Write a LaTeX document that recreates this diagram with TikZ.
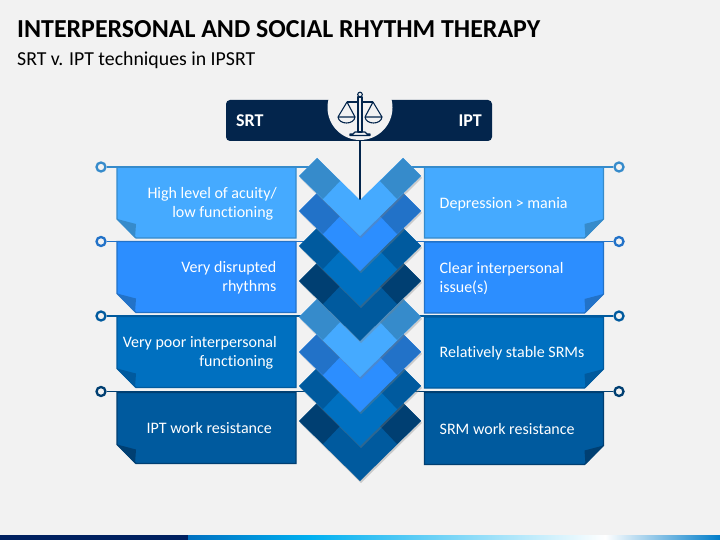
\documentclass[tikz,border=0pt]{standalone}
\usepackage{fontspec}
\setmainfont[Ligatures=NoCommon]{Carlito}
\usetikzlibrary{shadows}
\definecolor{pagegrey}{HTML}{F2F2F2}
\definecolor{navy}{HTML}{03254C}
\definecolor{footnavy}{HTML}{002060}
\definecolor{footcyan}{HTML}{00B0F0}
\definecolor{skyblue}{HTML}{45AAFF}
\definecolor{skyedge}{HTML}{368BCB}
\definecolor{midblue}{HTML}{2C8EFF}
\definecolor{midedge}{HTML}{2272C8}
\definecolor{deepblue}{HTML}{0070C0}
\definecolor{deepedge}{HTML}{005A9E}
\definecolor{darkblue}{HTML}{005A9E}
\definecolor{darkedge}{HTML}{003F72}
\newcommand{\chevronband}[3]{
  \fill[#2,drop shadow={shadow xshift=1pt,shadow yshift=-2pt,opacity=.35}]
    (317,#1-78) -- (360,#1-36) -- (403,#1-78) -- (421,#1-60) -- (360,#1) -- (299,#1-60) -- cycle;
  \fill[#3] (317,#1-78) -- (340,#1-55) -- (323,#1-37) -- (299,#1-60) -- cycle;
  \fill[#3] (403,#1-78) -- (380,#1-55) -- (397,#1-37) -- (421,#1-60) -- cycle;
}
\newcommand{\tableft}[3]{
  \draw[fill=#2,draw=#3,line width=1.2pt] (#1.north west) -- (#1.north east) -- (#1.south east)
    -- ([xshift=19pt]#1.south west) -- ([yshift=19pt]#1.south west) -- cycle;
  \fill[#3] ([yshift=19pt]#1.south west) -- ([xshift=19pt,yshift=14pt]#1.south west) -- ([xshift=18pt]#1.south west) -- cycle;
}
\newcommand{\tabright}[3]{
  \draw[fill=#2,draw=#3,line width=1.2pt] (#1.north east) -- (#1.north west) -- (#1.south west)
    -- ([xshift=-19pt]#1.south east) -- ([yshift=19pt]#1.south east) -- cycle;
  \fill[#3] ([yshift=19pt]#1.south east) -- ([xshift=-19pt,yshift=14pt]#1.south east) -- ([xshift=-18pt]#1.south east) -- cycle;
}
\tikzset{
  dot/.style={circle,draw,fill=pagegrey,line width=2.3pt,minimum size=9pt,inner sep=0pt},
  tabspot/.style={minimum width=179pt,inner sep=0pt,outer sep=0pt},
  tabtext/.style={text=white,font=\fontsize{16}{19}\selectfont,inner sep=0pt},
}
\begin{document}
\begin{tikzpicture}[x=1pt,y=-1pt]
  \useasboundingbox (0,0) rectangle (720,540);
  \fill[pagegrey] (0,0) rectangle (720,540);
  % footer strip
  \fill[footnavy] (0,535) rectangle (188,540);
  \shade[left color=deepblue,right color=footcyan] (188,535) rectangle (310,540);
  \shade[left color=footcyan,right color=white] (310,535) rectangle (605,540);
  \shade[left color=white,right color=deepblue!80!footcyan] (605,535) rectangle (720,540);
  % title
  \node[anchor=west,inner sep=0pt,font=\fontsize{25.9}{30}\selectfont\bfseries] (title) at (17,29) {INTERPERSONAL AND SOCIAL RHYTHM THERAPY};
  \node[anchor=west,inner sep=0pt,font=\fontsize{19.8}{24}\selectfont] (subtitle) at (17,60) {SRT v. IPT techniques in IPSRT};
  % header bar
  \node[fill=navy,rounded corners=4pt,minimum width=266pt,minimum height=41pt,inner sep=0pt] (bar) at (359,120.5) {};
  \node[circle,fill=pagegrey,minimum size=65pt,inner sep=0pt] (seal) at (360,107.5) {};
  \node[anchor=west,text=white,inner sep=0pt,font=\fontsize{18}{20}\selectfont\bfseries] (srt) at (236,120.5) {SRT};
  \node[anchor=east,text=white,inner sep=0pt,font=\fontsize{18}{20}\selectfont\bfseries] (ipt) at (482,120.5) {IPT};
  % scales
  \begin{scope}[navy,line width=1.1pt,line join=round]
    \draw[fill=pagegrey] (358,97) rectangle (362,132);
    \draw (360,94.5) circle (2.3pt);
    \draw (347,102) -- (358,102) (362,102) -- (373,102);
    \draw (338,117) -- (347,102) -- (355,117);
    \draw (365,117) -- (373,102) -- (382,117);
    \draw (338,117) -- (355,117) .. controls (354,125) and (339,125) .. (338,117);
    \draw (365,117) -- (382,117) .. controls (381,125) and (366,125) .. (365,117);
    \draw (355,132) -- (365,132) -- (367,134) -- (370,134) -- (370,135.5) -- (350,135.5) -- (350,134) -- (353,134) -- cycle;
  \end{scope}
  \coordinate (tip) at (360,200);
  \draw[navy,line width=1.3pt] (seal.south) -- (tip);
  % left tabs
  \node[tabspot,minimum height=71pt] (tabL1) at (206.5,202.5) {};
  \node[tabspot,minimum height=71pt] (tabL2) at (206.5,277) {};
  \node[tabspot,minimum height=71pt] (tabL3) at (206.5,352) {};
  \node[tabspot,minimum height=71pt] (tabL4) at (206.5,428) {};
  \tableft{tabL1}{skyblue}{skyedge}
  \tableft{tabL2}{midblue}{midedge}
  \tableft{tabL3}{deepblue}{deepedge}
  \tableft{tabL4}{darkblue}{darkedge}
  % right tabs
  \node[tabspot,minimum height=71pt] (tabR1) at (514,202.5) {};
  \node[tabspot,minimum height=71pt] (tabR2) at (514,277.5) {};
  \node[tabspot,minimum height=71pt] (tabR3) at (514,352.5) {};
  \node[tabspot,minimum height=72pt] (tabR4) at (514,428.5) {};
  \tabright{tabR1}{skyblue}{skyedge}
  \tabright{tabR2}{midblue}{midedge}
  \tabright{tabR3}{deepblue}{deepedge}
  \tabright{tabR4}{darkblue}{darkedge}
  % leaders
  \node[dot,draw=skyedge] (dotL1) at (101,167) {};
  \node[dot,draw=midedge] (dotL2) at (101,241.5) {};
  \node[dot,draw=deepedge] (dotL3) at (101,316) {};
  \node[dot,draw=darkedge] (dotL4) at (101,391.5) {};
  \node[dot,draw=skyedge] (dotR1) at (619,167) {};
  \node[dot,draw=midedge] (dotR2) at (619,241.5) {};
  \node[dot,draw=deepedge] (dotR3) at (619,316) {};
  \node[dot,draw=darkedge] (dotR4) at (619,391.5) {};
  \coordinate (endL1) at (320,167);
  \coordinate (endL2) at (320,241.5);
  \coordinate (endL3) at (320,316);
  \coordinate (endL4) at (320,391.5);
  \coordinate (endR1) at (400,167);
  \coordinate (endR2) at (400,241.5);
  \coordinate (endR3) at (400,316);
  \coordinate (endR4) at (400,391.5);
  \draw[skyedge,line width=1.2pt] (dotL1) -- (endL1) (dotR1) -- (endR1);
  \draw[midedge,line width=1.2pt] (dotL2) -- (endL2) (dotR2) -- (endR2);
  \draw[deepedge,line width=1.2pt] (dotL3) -- (endL3) (dotR3) -- (endR3);
  \draw[darkedge,line width=1.2pt] (dotL4) -- (endL4) (dotR4) -- (endR4);
  % chevrons, lowest first
  \chevronband{481}{darkblue}{darkedge}
  \chevronband{446}{deepblue}{deepedge}
  \chevronband{412}{midblue}{midedge}
  \chevronband{377}{skyblue}{skyedge}
  \chevronband{341}{darkblue}{darkedge}
  \chevronband{306}{deepblue}{deepedge}
  \chevronband{271}{midblue}{midedge}
  \chevronband{236}{skyblue}{skyedge}
  % labels
  \node[tabtext,align=right,anchor=east] (textL1) at (277,204) {High level of acuity/\\low functioning\kern3.5pt\mbox{}};
  \node[tabtext,align=right,anchor=east] (textL2) at (276.5,278) {Very disrupted\\rhythms};
  \node[tabtext,align=right,anchor=east] (textL3) at (277,352.5) {Very poor interpersonal\\functioning\kern3.5pt\mbox{}};
  \node[tabtext,align=right,anchor=east] (textL4) at (272,428) {IPT work resistance};
  \node[tabtext,align=left,anchor=west] (textR1) at (439.5,204.5) {Depression > mania};
  \node[tabtext,align=left,anchor=west] (textR2) at (439.5,279) {Clear interpersonal\\issue(s)};
  \node[tabtext,align=left,anchor=west] (textR3) at (439.5,353.5) {Relatively stable SRMs};
  \node[tabtext,align=left,anchor=west] (textR4) at (439.5,429) {SRM work resistance};
\end{tikzpicture}
\end{document}
